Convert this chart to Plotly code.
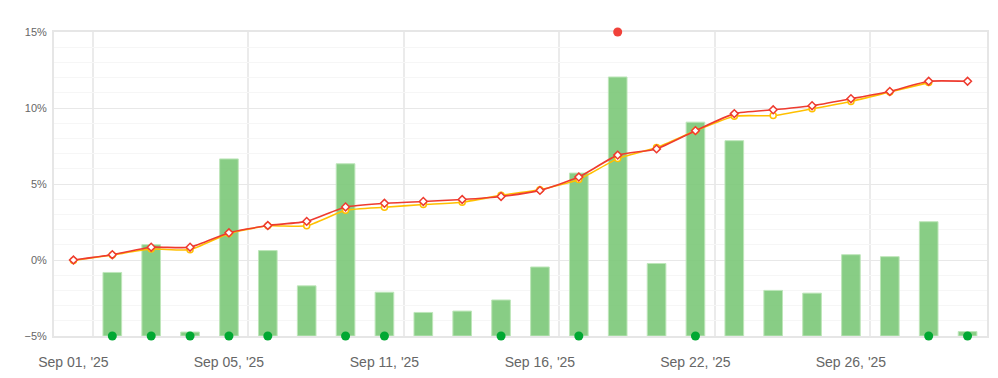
import plotly.graph_objects as go

dates = ["Sep 01, '25", "Sep 02, '25", "Sep 03, '25", "Sep 04, '25", "Sep 05, '25",
         "Sep 08, '25", "Sep 09, '25", "Sep 10, '25", "Sep 11, '25", "Sep 12, '25",
         "Sep 14, '25", "Sep 15, '25", "Sep 16, '25", "Sep 17, '25", "Sep 18, '25",
         "Sep 19, '25", "Sep 22, '25", "Sep 23, '25", "Sep 24, '25", "Sep 25, '25",
         "Sep 26, '25", "Sep 29, '25", "Sep 30, '25", "Oct 01, '25"]

bar_values = [None, -0.82, 1.01, -4.74, 6.65, 0.62, -1.70, 6.33, -2.12, -3.45,
              -3.36, -2.63, -0.46, 5.72, 12.04, -0.23, 9.07, 7.85, -2.00, -2.18,
              0.35, 0.22, 2.52, -4.71]

red_line = [0.00, 0.35, 0.84, 0.84, 1.79, 2.27, 2.54, 3.49, 3.73, 3.85,
            3.98, 4.18, 4.58, 5.46, 6.90, 7.31, 8.51, 9.63, 9.88, 10.15,
            10.61, 11.09, 11.76, 11.76]

yellow_line = [-0.03, 0.33, 0.72, 0.68, 1.75, 2.25, 2.25, 3.27, 3.47, 3.65,
               3.80, 4.26, 4.62, 5.30, 6.67, 7.40, 8.50, 9.46, 9.50, 9.95,
               10.43, 11.05, 11.67, None]

green_dot_idx = [1, 2, 3, 4, 5, 7, 8, 11, 13, 16, 22, 23]
red_dot_idx = [14]

y_min, y_max = -5, 15
label_idx = [0, 4, 8, 12, 16, 20]

x = list(range(len(dates)))

fig = go.Figure()

bx = [i for i, v in enumerate(bar_values) if v is not None]
fig.add_trace(go.Bar(
    x=bx, y=[bar_values[i] - y_min for i in bx], base=y_min,
    width=0.48,
    marker=dict(color="rgba(120,198,116,0.88)", line=dict(color="rgba(190,230,186,1)", width=1)),
    showlegend=False, hoverinfo="skip",
))

fig.add_trace(go.Scatter(
    x=x, y=yellow_line, mode="lines+markers",
    line=dict(color="#ffc000", width=1.6, shape="spline", smoothing=0.5),
    marker=dict(symbol="circle", size=6, color="white", line=dict(color="#ffc000", width=1.5)),
    showlegend=False,
))

fig.add_trace(go.Scatter(
    x=x, y=red_line, mode="lines+markers",
    line=dict(color="#ee3b2f", width=1.6, shape="spline", smoothing=0.5),
    marker=dict(symbol="diamond", size=6, color="white", line=dict(color="#ee3b2f", width=1.5)),
    showlegend=False,
))

fig.add_trace(go.Scatter(
    x=green_dot_idx, y=[y_min] * len(green_dot_idx), mode="markers",
    marker=dict(size=9, color="#00a832"), showlegend=False, cliponaxis=False,
))

fig.add_trace(go.Scatter(
    x=red_dot_idx, y=[y_max] * len(red_dot_idx), mode="markers",
    marker=dict(size=9, color="#f0413a"), showlegend=False, cliponaxis=False,
))

xr = [-0.5, len(dates) - 0.5]
# page body has a default 8px margin, so the figure is sized/offset to compensate
fig.update_layout(
    width=990, height=370,
    margin=dict(l=46, r=11, t=24, b=42),
    paper_bgcolor="white", plot_bgcolor="white",
    font=dict(family="Arial, Liberation Sans, sans-serif", color="#666666"),
    xaxis=dict(
        range=xr, tickmode="array", tickvals=label_idx,
        ticktext=[dates[i] for i in label_idx],
        showgrid=False, zeroline=False, automargin=False,
        minor=dict(tickmode="array", tickvals=[i + 0.5 for i in label_idx],
                   showgrid=True, gridcolor="#ebebeb", gridwidth=1.5, ticks=""),
        showline=True, linecolor="#e6e6e6", linewidth=2, mirror=True,
        ticks="", tickfont=dict(size=14, color="#666666"),
        ticklabelstandoff=12, layer="below traces",
    ),
    yaxis=dict(
        range=[y_min, y_max], dtick=5, tick0=0, ticksuffix="%",
        showgrid=True, gridcolor="#e8e8e8", gridwidth=1, automargin=False,
        minor=dict(dtick=1, showgrid=True, gridcolor="#f6f6f6"),
        zeroline=False, showline=True, linecolor="#e6e6e6", linewidth=2, mirror=True,
        ticks="", tickfont=dict(size=11, color="#666666"),
        ticklabelstandoff=3, layer="below traces",
    ),
)

fig.write_html("out.html")
